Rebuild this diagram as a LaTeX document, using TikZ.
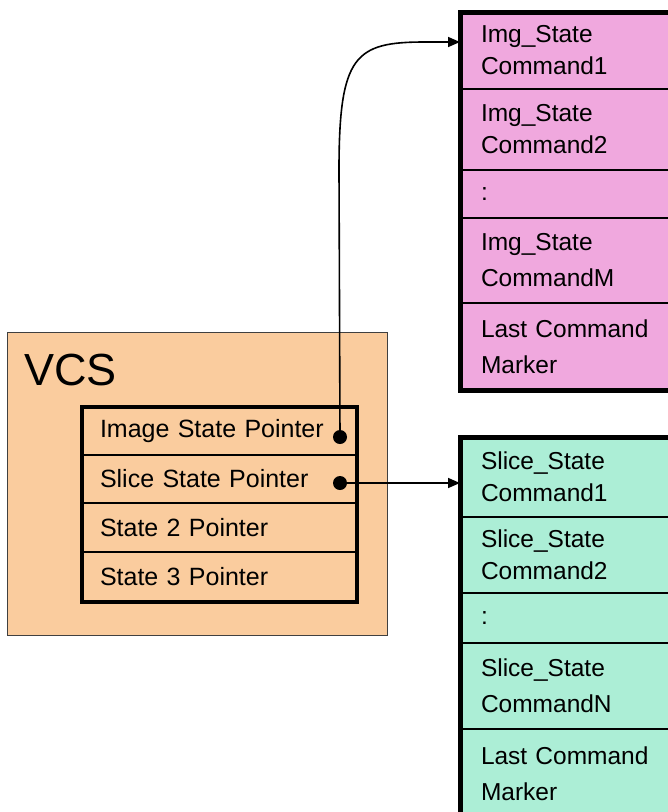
\documentclass[tikz,border=0pt]{standalone}
\usepackage{fontspec}
\setmainfont{Liberation Sans}
\usetikzlibrary{arrows.meta}
\definecolor{vcspeach}{RGB}{250,204,158}
\definecolor{imgpink}{RGB}{240,168,222}
\definecolor{slicemint}{RGB}{172,238,214}
\begin{document}
\begin{tikzpicture}[x=1pt,y=-1pt,
  cmdrow/.style={draw, line width=2.5pt, outer sep=0pt, anchor=north west,
    minimum width=230pt, text width=188pt, align=left, inner xsep=21pt,
    font=\fontsize{24.5}{32}\selectfont},
  ptrrow/.style={draw, line width=1.2pt, outer sep=0pt, anchor=north west,
    minimum width=275pt, text width=239pt, align=left, inner xsep=18pt,
    font=\fontsize{25}{28}\selectfont},
  ptrdot/.style={circle, fill=black, inner sep=0pt, minimum size=14pt},
  ptrarrow/.style={line width=1.6pt, -{Triangle[length=12pt,width=10pt]}}]

 \useasboundingbox (0,0) rectangle (668,812);
 \clip (0,0) rectangle (668,812);

 % VCS block
 \node[draw=black!75, fill=vcspeach, line width=0.8pt, outer sep=0pt, anchor=north west,
   minimum width=380pt, minimum height=303pt] (vcs) at (7,332) {};
 \node[anchor=base west, inner sep=0pt, font=\fontsize{45}{45}\selectfont] (vcslabel) at (24,385) {VCS};

 \foreach \n/\y/\h/\txt in {1/407/48/Image State Pointer, 2/455/48/Slice State Pointer,
   3/503/49/State 2 Pointer, 4/552/50/State 3 Pointer} {
  \node[ptrrow, minimum height=\h pt] (ptr\n) at (82,\y) {\txt};
 }
 \draw[line width=4pt] (ptr1.north west) rectangle (ptr4.south east);

 \node[ptrdot] (dotimg) at ([xshift=-17pt,yshift=-6pt]ptr1.east) {};
 \node[ptrdot] (dotslice) at ([xshift=-17pt,yshift=-4pt]ptr2.east) {};

 % image state commands
 \foreach \n/\y/\h/\txt in {1/12/77/{Img\_State\\Command1}, 2/89/81/{Img\_State\\Command2},
   3/170/48/{:}, 4/218/85/{Img\_State\\[4pt]CommandM}, 5/303/87/{Last Command\\[4pt]Marker}} {
  \node[cmdrow, fill=imgpink, minimum height=\h pt] (img\n) at (460,\y) {\txt};
 }
 \draw[line width=5pt] (img1.north west) rectangle (img5.south east);

 % slice state commands
 \foreach \n/\y/\h/\txt in {1/437/80/{Slice\_State\\Command1}, 2/517/76/{Slice\_State\\Command2},
   3/593/50/{:}, 4/643/86/{Slice\_State\\[4pt]CommandN}, 5/729/90/{Last Command\\[4pt]Marker}} {
  \node[cmdrow, fill=slicemint, minimum height=\h pt] (sl\n) at (460,\y) {\txt};
 }
 \draw[line width=5pt] (sl1.north west) rectangle (sl5.south east);

 % pointers
 \draw[ptrarrow] (dotimg.center) -- (339,170) .. controls (339,55) and (355,42) .. (425,42)
   -- ([yshift=8.5pt]img1.west);
 \draw[ptrarrow] (dotslice.center) -- (dotslice -| sl1.west);

\end{tikzpicture}
\end{document}
